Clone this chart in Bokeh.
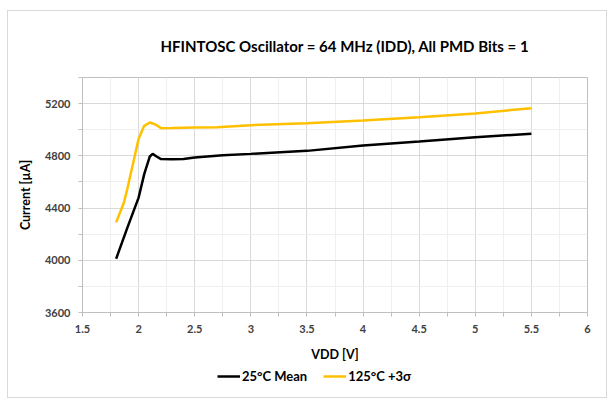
from bokeh.plotting import figure
from bokeh.layouts import column
from bokeh.models import FixedTicker, Legend, LegendItem, Range1d
from bokeh.embed import file_html
from bokeh.resources import INLINE

# ---- data ----
vdd_25 = [1.8, 1.9, 2.0, 2.05, 2.1, 2.125, 2.16, 2.2, 2.3, 2.4, 2.5, 2.75, 3.0, 3.5, 4.0, 4.5, 5.0, 5.5]
cur_25 = [4012, 4250, 4480, 4660, 4795, 4815, 4795, 4775, 4773, 4775, 4788, 4805, 4815, 4838, 4880, 4910, 4942, 4970]

vdd_125 = [1.8, 1.87, 1.9, 1.95, 2.0, 2.05, 2.1, 2.15, 2.2, 2.3, 2.5, 2.7, 3.0, 3.5, 4.0, 4.5, 5.0, 5.5]
cur_125 = [4290, 4445, 4550, 4740, 4930, 5030, 5055, 5040, 5012, 5013, 5017, 5018, 5035, 5050, 5070, 5095, 5125, 5165]

x_ticks = [1.5, 2, 2.5, 3, 3.5, 4, 4.5, 5, 5.5, 6]
x_minor = [1.75, 2.25, 2.75, 3.25, 3.75, 4.25, 4.75, 5.25, 5.75]
y_ticks = [3600, 4000, 4400, 4800, 5200]
y_minor = [3800, 4200, 4600, 5000, 5400]

title_text = "HFINTOSC Oscillator = 64 MHz (IDD), All PMD Bits = 1"
x_label = "VDD [V]"
y_label = "Current [\u00b5A]"
series_names = ["25\u00b0C Mean", "125\u00b0C +3\u03c3"]
series_colors = ["#000000", "#FFC000"]

FONT = "Lato"

p = figure(width=598, height=355, output_backend="svg", toolbar_location=None,
           x_range=Range1d(1.5, 6), y_range=Range1d(3600, 5400),
           min_border_left=74, min_border_right=19, min_border_top=66, min_border_bottom=54)

p.title.text = title_text
p.title.align = "left"
p.title.offset = 78
p.title.text_font = FONT
p.title.text_font_size = "15px"
p.title.text_font_style = "bold"
p.title.text_color = "#000000"
p.title.standoff = 45

p.outline_line_color = "#bfbfbf"
p.outline_line_width = 1

p.xaxis.ticker = FixedTicker(ticks=x_ticks, minor_ticks=x_minor)
p.yaxis.ticker = FixedTicker(ticks=y_ticks, minor_ticks=y_minor)
p.xaxis.major_label_overrides = {1.5: "1.5", 2: "2", 2.5: "2.5", 3: "3", 3.5: "3.5", 4: "4",
                                 4.5: "4.5", 5: "5", 5.5: "5.5", 6: "6"}

for ax in (p.xaxis[0], p.yaxis[0]):
    ax.axis_line_color = "#bfbfbf"
    ax.major_tick_line_color = "#bfbfbf"
    ax.minor_tick_line_color = "#bfbfbf"
    ax.major_tick_in = 0
    ax.major_tick_out = 4
    ax.minor_tick_in = 0
    ax.minor_tick_out = 4
    ax.major_label_text_font = FONT
    ax.major_label_text_font_size = "11px"
    ax.major_label_text_font_style = "bold"
    ax.major_label_text_color = "#404040"
    ax.axis_label_text_font = FONT
    ax.axis_label_text_font_size = "12.5px"
    ax.axis_label_text_font_style = "bold"
    ax.axis_label_text_color = "#000000"

p.xaxis.axis_label = x_label
p.yaxis.axis_label = y_label
p.xaxis.major_label_standoff = 8
p.xaxis.axis_label_standoff = 11
p.yaxis.major_label_standoff = 8
p.yaxis.axis_label_standoff = 9

p.xgrid.grid_line_color = "#d9d9d9"
p.ygrid.grid_line_color = "#d9d9d9"
p.xgrid.minor_grid_line_color = "#efefef"
p.ygrid.minor_grid_line_color = "#efefef"

p.line(vdd_25, cur_25, line_color=series_colors[0], line_width=2.5)
p.line(vdd_125, cur_125, line_color=series_colors[1], line_width=2.5)

# ---- legend strip below the chart (same series, kept outside its view) ----
lg = figure(width=598, height=31, output_backend="svg", toolbar_location=None,
            x_axis_type=None, y_axis_type=None,
            x_range=Range1d(0, 1), y_range=Range1d(0, 1),
            min_border=0, min_border_left=0, min_border_right=0,
            min_border_top=0, min_border_bottom=0)
lg.outline_line_color = None
lg.xgrid.visible = False
lg.ygrid.visible = False
l1 = lg.line(vdd_25, cur_25, line_color=series_colors[0], line_width=2.5)
l2 = lg.line(vdd_125, cur_125, line_color=series_colors[1], line_width=2.5)
legend = Legend(items=[LegendItem(label=series_names[0], renderers=[l1]),
                       LegendItem(label=series_names[1], renderers=[l2])],
                location=(135, 13), orientation="horizontal",
                padding=0, margin=0, spacing=16, glyph_width=23, glyph_height=14,
                label_standoff=2, border_line_color=None, background_fill_alpha=0,
                label_text_font=FONT, label_text_font_size="13px",
                label_text_font_style="bold", label_text_color="#000000")
lg.add_layout(legend, "center")

layout = column(p, lg, spacing=0, margin=(10, 0, 0, 7),
                styles={"border": "1px solid #d9d9d9"})

open("out.html", "w").write(file_html(layout, INLINE))
